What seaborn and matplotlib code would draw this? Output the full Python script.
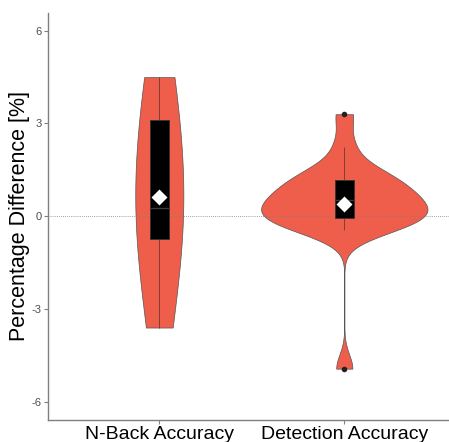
"""Violin + box plot of percentage differences for two accuracy measures."""

import matplotlib

matplotlib.use("Agg")

import matplotlib.pyplot as plt
import pandas as pd
import seaborn as sns


CATEGORIES = ["N-Back Accuracy", "Detection Accuracy"]

NBACK_DIFF = [-3.6, -3.3, -1.0, -0.67, -0.2, 0.0, 0.5, 1.2, 3.0, 3.44, 3.57, 4.5]
DETECTION_DIFF = [
    -4.93, -0.43, -0.35, -0.25, -0.15, -0.07, 0.0, 0.1, 0.2, 0.27, 0.54,
    0.55, 0.6, 0.7, 0.9, 1.17, 1.2, 1.3, 1.5, 2.25, 3.3,
]

Y_TICKS = [-6, -3, 0, 3, 6]

VIOLIN_COLOR = "#EE5E4A"
BW_ADJUST = [1.7, 0.55]
VIOLIN_WIDTH = [0.26, 0.9]


def main() -> None:
    sns.set_style("white")
    plt.rcParams["font.family"] = ["Liberation Sans", "DejaVu Sans"]
    plt.rcParams["axes.unicode_minus"] = False

    data = pd.DataFrame({
        "measure": [CATEGORIES[0]] * len(NBACK_DIFF) + [CATEGORIES[1]] * len(DETECTION_DIFF),
        "diff": NBACK_DIFF + DETECTION_DIFF,
    })

    fig, ax = plt.subplots(figsize=(4.49, 4.42), dpi=100)
    fig.subplots_adjust(left=0.1076, right=1.0, bottom=0.0498, top=0.9706)

    # one call per group so each violin gets its own bandwidth and width
    for name, bw, width in zip(CATEGORIES, BW_ADJUST, VIOLIN_WIDTH):
        sns.violinplot(
            data=data[data["measure"] == name],
            x="measure",
            y="diff",
            order=CATEGORIES,
            cut=0,
            bw_adjust=bw,
            density_norm="width",
            width=width,
            inner=None,
            color=VIOLIN_COLOR,
            saturation=1,
            linecolor="#555555",
            linewidth=0.5,
            ax=ax,
        )

    ax.axhline(0, color="#808080", linestyle=(0, (1, 1.5)), linewidth=0.6, zorder=3)

    sns.boxplot(
        data=data,
        x="measure",
        y="diff",
        order=CATEGORIES,
        width=0.1,
        color="black",
        saturation=1,
        showcaps=False,
        linewidth=0.6,
        boxprops={"edgecolor": "#333333", "zorder": 4},
        whiskerprops={"color": "#6e3a33", "zorder": 4},
        medianprops={"color": "#3a3a3a", "linewidth": 1.0, "zorder": 5},
        flierprops={"marker": "o", "markersize": 3, "markerfacecolor": "#222222",
                    "markeredgecolor": "#222222", "zorder": 5},
        ax=ax,
    )

    sns.pointplot(
        data=data,
        x="measure",
        y="diff",
        order=CATEGORIES,
        estimator="mean",
        errorbar=None,
        linestyle="none",
        marker="D",
        markersize=6.5,
        color="white",
        zorder=6,
        ax=ax,
    )

    ax.set_xlim(-0.6, 1.566)
    ax.set_ylim(-6.59, 6.573)
    ax.set_yticks(Y_TICKS)
    ax.set_yticklabels([str(t) for t in Y_TICKS])
    ax.set_xlabel("")
    ax.set_ylabel("Percentage Difference [%]", fontsize=15.5, color="black", labelpad=1)

    for side in ["top", "right"]:
        ax.spines[side].set_visible(False)
    for side in ["left", "bottom"]:
        ax.spines[side].set_color("#7f7f7f")
        ax.spines[side].set_linewidth(1.0)

    ax.tick_params(axis="y", labelsize=8, labelcolor="#4d4d4d", colors="#7f7f7f",
                   length=3, width=0.8, pad=2, left=True)
    ax.tick_params(axis="x", labelsize=14, labelcolor="black", colors="#7f7f7f",
                   length=3, width=0.8, pad=1, bottom=True)
    for label in ax.get_xticklabels():
        label.set_color("black")
    for label in ax.get_yticklabels():
        label.set_color("#4d4d4d")

    fig.savefig("out.png", dpi=100)
    plt.close(fig)


if __name__ == "__main__":
    main()
